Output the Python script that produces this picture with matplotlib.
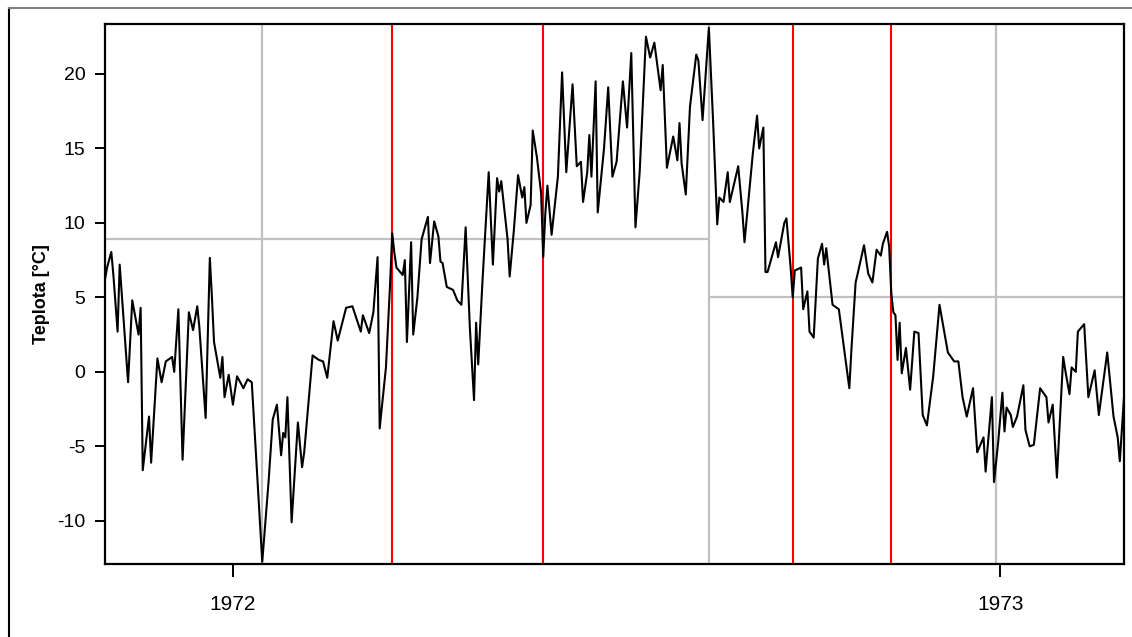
import numpy as np
import matplotlib
matplotlib.use("Agg")
import matplotlib.pyplot as plt
from matplotlib.lines import Line2D

# daily temperature, days counted from 1971-11-01
start = np.datetime64("1971-11-01")
days = [
    0, 1, 3, 4, 6, 7, 9, 11, 13, 16,
    17, 18, 21, 22, 25, 27, 29, 32, 33, 35,
    37, 40, 42, 44, 45, 48, 50, 51, 52, 55,
    56, 57, 59, 61, 63, 66, 68, 70, 73, 75,
    78, 80, 82, 84, 85, 86, 87, 89, 92, 94,
    95, 99, 102, 104, 106, 109, 111, 115, 118, 122,
    123, 126, 128, 130, 131, 134, 136, 137, 138, 139,
    142, 143, 144, 146, 147, 149, 151, 154, 155, 157,
    159, 160, 161, 163, 166, 168, 170, 172, 174, 176,
    177, 178, 180, 183, 185, 187, 188, 189, 192, 193,
    195, 197, 199, 200, 201, 203, 204, 206, 208, 209,
    210, 211, 213, 216, 218, 220, 223, 225, 227, 228,
    230, 231, 232, 234, 235, 238, 240, 242, 244, 247,
    249, 251, 253, 255, 258, 260, 262, 265, 266, 268,
    270, 271, 273, 274, 275, 277, 279, 282, 283, 285,
    288, 290, 292, 293, 295, 297, 298, 302, 304, 305,
    309, 311, 312, 314, 315, 316, 320, 321, 324, 325,
    327, 328, 329, 332, 333, 335, 336, 338, 340, 342,
    343, 344, 347, 350, 353, 355, 356, 358, 359, 362,
    364, 366, 368, 370, 371, 373, 374, 375, 376, 377,
    378, 379, 380, 382, 384, 386, 388, 390, 392, 395,
    398, 402, 405, 407, 409, 411, 414, 416, 419, 420,
    421, 423, 424, 426, 428, 429, 430, 432, 433, 435,
    438, 439, 441, 443, 446, 449, 450, 452, 454, 457,
    458, 460, 461, 463, 464, 467, 469, 471, 472, 474,
    478, 481, 483, 484, 486,
]
temps = [
    6.2, 7.0, 8.05, 6.5, 2.7, 7.2, 3.3, -0.7, 4.8, 2.5,
    4.3, -6.6, -3.0, -6.1, 0.9, -0.7, 0.7, 1.0, 0.0, 4.2,
    -5.9, 4.0, 2.8, 4.4, 3.0, -3.1, 7.65, 5.0, 2.0, -0.4,
    1.0, -1.7, -0.2, -2.2, -0.3, -1.1, -0.5, -0.7, -7.9, -12.75,
    -7.4, -3.2, -2.2, -5.6, -4.1, -4.4, -1.7, -10.1, -3.4, -6.4,
    -5.4, 1.1, 0.8, 0.7, -0.4, 3.4, 2.1, 4.3, 4.4, 2.7,
    3.8, 2.6, 4.0, 7.7, -3.8, 0.3, 6.0, 9.3, 8.0, 7.0,
    6.5, 7.5, 2.0, 8.7, 2.5, 5.0, 8.9, 10.4, 7.3, 10.1,
    9.1, 7.4, 7.3, 5.7, 5.5, 4.8, 4.5, 9.7, 3.0, -1.9,
    3.3, 0.5, 6.0, 13.4, 7.2, 13.0, 12.1, 12.8, 8.9, 6.4,
    9.5, 13.2, 11.7, 12.4, 10.0, 11.2, 16.2, 14.4, 12.0, 7.7,
    10.6, 12.5, 9.2, 13.1, 20.1, 13.4, 19.3, 13.8, 14.1, 11.4,
    13.4, 15.9, 13.1, 19.5, 10.7, 15.0, 19.1, 13.1, 14.1, 19.5,
    16.4, 21.4, 9.7, 13.4, 22.5, 21.1, 22.1, 18.9, 20.6, 13.7,
    15.1, 15.8, 14.2, 16.7, 14.0, 11.9, 17.8, 21.3, 20.9, 16.9,
    23.1, 16.9, 9.9, 11.7, 11.4, 13.4, 11.4, 13.8, 10.7, 8.7,
    14.7, 17.2, 15.0, 16.4, 6.7, 6.7, 8.7, 7.7, 10.0, 10.3,
    7.0, 5.0, 6.8, 7.0, 4.2, 5.4, 2.7, 2.3, 7.6, 8.6,
    7.2, 8.3, 4.5, 4.2, 1.0, -1.1, 1.5, 6.0, 6.6, 8.5,
    6.6, 6.0, 8.2, 7.8, 8.6, 9.4, 8.4, 5.3, 4.0, 3.8,
    0.8, 3.3, -0.1, 1.6, -1.2, 2.7, 2.6, -2.9, -3.6, -0.3,
    4.5, 1.3, 0.7, 0.7, -1.7, -3.0, -1.1, -5.4, -4.4, -6.7,
    -5.0, -1.7, -7.4, -4.7, -1.4, -4.0, -2.4, -2.9, -3.7, -3.0,
    -0.9, -3.9, -5.0, -4.9, -1.1, -1.7, -3.4, -2.2, -7.1, 1.0,
    0.1, -1.5, 0.3, 0.0, 2.7, 3.2, -1.7, -0.5, 0.1, -2.9,
    1.3, -3.0, -4.4, -6.0, -1.7,
]

# change points (red) and gray reference lines
red_dates = ["1972-03-17", "1972-05-28", "1972-09-24", "1972-11-10"]
grid_dates = ["1972-01-15", "1972-08-15", "1972-12-30"]
level_breaks = ["1971-11-01", "1972-08-15", "1973-03-02"]
level_values = [8.93, 5.0]
year_ticks = ["1972-01-01", "1973-01-01"]
year_labels = ["1972", "1973"]

dates = start + np.array(days).astype("timedelta64[D]")

plt.rcParams["font.family"] = ["Liberation Sans", "DejaVu Sans"]
plt.rcParams["axes.unicode_minus"] = False

fig = plt.figure(figsize=(11.32, 6.37), dpi=100)
ax = fig.add_axes([105 / 1132, 1 - 564 / 637, 1019 / 1132, 540 / 637])

for d in grid_dates:
    ax.axvline(np.datetime64(d), color="#c0c0c0", lw=1.6, zorder=1)
for i, v in enumerate(level_values):
    ax.hlines(v, np.datetime64(level_breaks[i]), np.datetime64(level_breaks[i + 1]),
              color="#c0c0c0", lw=1.6, zorder=1)
for d in red_dates:
    ax.axvline(np.datetime64(d), color="red", lw=1.5, zorder=2)

ax.plot(dates, temps, color="black", lw=1.5, zorder=3)

ax.set_xlim(dates[0], dates[-1])
ax.set_ylim(-12.9, 23.35)
ax.set_yticks([-10, -5, 0, 5, 10, 15, 20])
ax.set_xticks([np.datetime64(d) for d in year_ticks])
ax.set_xticklabels(year_labels)
ax.tick_params(axis="x", length=9, width=1.4, pad=13, labelsize=15)
ax.tick_params(axis="y", length=7, width=1.4, pad=7, labelsize=14)
for s in ax.spines.values():
    s.set_linewidth(1.6)
ax.set_ylabel("Teplota [°C]", fontsize=13, fontweight="bold", labelpad=5)

# outer frame pieces
fig.add_artist(Line2D([9 / 1132, 9 / 1132], [0, 1 - 8 / 637], transform=fig.transFigure,
                      color="black", lw=1.5))
fig.add_artist(Line2D([9 / 1132, 1], [1 - 8 / 637, 1 - 8 / 637], transform=fig.transFigure,
                      color="#808080", lw=1.5))

fig.savefig("out.png", dpi=100)
